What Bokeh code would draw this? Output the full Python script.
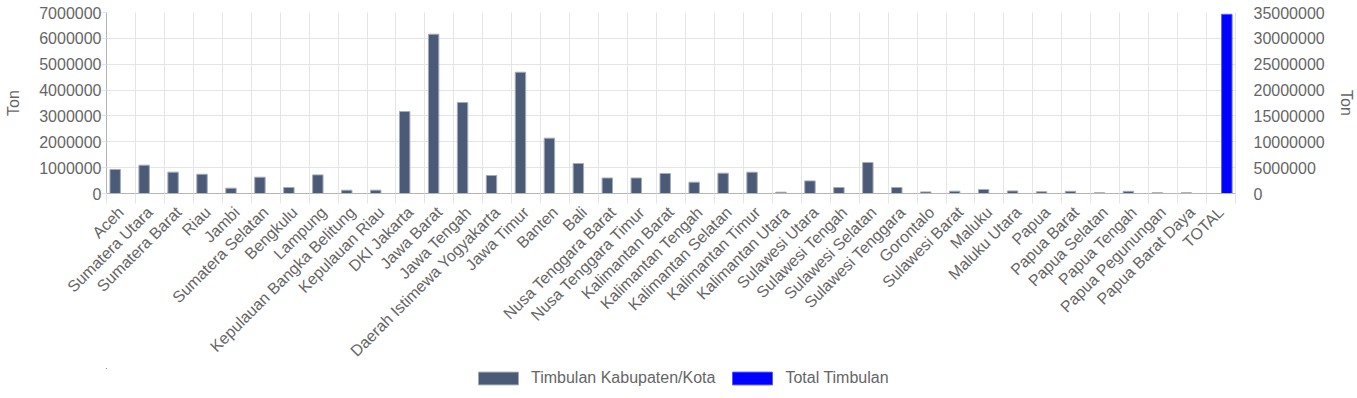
from bokeh.plotting import figure
from bokeh.layouts import column
from bokeh.models import (Range1d, LinearAxis, FixedTicker, SingleIntervalTicker,
                          BasicTickFormatter, Legend, LegendItem, ColumnDataSource)
from bokeh.transform import dodge
from bokeh.embed import file_html
from bokeh.resources import INLINE
import math

categories = ["Aceh", "Sumatera Utara", "Sumatera Barat", "Riau", "Jambi",
              "Sumatera Selatan", "Bengkulu", "Lampung", "Kepulauan Bangka Belitung",
              "Kepulauan Riau", "DKI Jakarta", "Jawa Barat", "Jawa Tengah",
              "Daerah Istimewa Yogyakarta", "Jawa Timur", "Banten", "Bali",
              "Nusa Tenggara Barat", "Nusa Tenggara Timur", "Kalimantan Barat",
              "Kalimantan Tengah", "Kalimantan Selatan", "Kalimantan Timur",
              "Kalimantan Utara", "Sulawesi Utara", "Sulawesi Tengah",
              "Sulawesi Selatan", "Sulawesi Tenggara", "Gorontalo", "Sulawesi Barat",
              "Maluku", "Maluku Utara", "Papua", "Papua Barat", "Papua Selatan",
              "Papua Tengah", "Papua Pegunungan", "Papua Barat Daya", "TOTAL"]

timbulan_kabkota = [930000, 1095000, 825000, 745000, 205000,
                    630000, 232000, 720000, 128000,
                    130000, 3170000, 6160000, 3520000,
                    696000, 4690000, 2140000, 1160000,
                    600000, 600000, 773000,
                    437000, 785000, 824000,
                    50000, 487000, 232000,
                    1199000, 232000, 62000, 89000,
                    155000, 100000, 70000, 85000, 30000,
                    85000, 30000, 30000]

total_timbulan = [34650000]

series_names = ["Timbulan Kabupaten/Kota", "Total Timbulan"]

TEXT = "#666666"
FONT = "Liberation Sans"
C1, C1L = "#4b5a76", "#a3abb9"
C2, C2L = "#0000ff", "#5a5aff"

n = len(categories)
src1 = ColumnDataSource(dict(x=[i + 0.5 for i in range(len(timbulan_kabkota))],
                             top=timbulan_kabkota))
src2 = ColumnDataSource(dict(x=[n - 1 + 0.5], top=total_timbulan))

H1 = 368
p = figure(width=1357, height=H1, output_backend="svg",
           toolbar_location=None, x_range=Range1d(0, n), y_range=Range1d(0, 7000000),
           min_border_left=106, min_border_right=115, min_border_top=12,
           min_border_bottom=H1 - 193)
p.extra_y_ranges = {"right": Range1d(0, 35000000)}
p.outline_line_color = None
p.background_fill_color = "white"

r1 = p.vbar(x=dodge("x", -0.2, range=p.x_range), top="top", width=0.36, source=src1,
            fill_color=C1, line_color=C1L, line_width=1)
r2 = p.vbar(x=dodge("x", 0.2, range=p.x_range), top="top", width=0.36, source=src2,
            fill_color=C2, line_color=C2L, line_width=1,
            y_range_name="right")

# x axis
xa = p.xaxis[0]
xa.ticker = FixedTicker(ticks=[i + 0.5 for i in range(n)], minor_ticks=list(range(n + 1)))
xa.major_label_overrides = {i + 0.5: c for i, c in enumerate(categories)}
xa.major_label_orientation = math.pi / 4
xa.major_tick_out = 0
xa.major_tick_in = 0
xa.minor_tick_out = 10
xa.minor_tick_in = 0
xa.minor_tick_line_color = "#e5e5e5"
xa.axis_line_color = "#b5b5b5"
xa.major_label_text_font = FONT
xa.major_label_text_font_size = "16px"
xa.major_label_text_color = TEXT
xa.major_label_standoff = 6

# left y axis
ya = p.yaxis[0]
ya.ticker = SingleIntervalTicker(interval=1000000)
ya.formatter = BasicTickFormatter(use_scientific=False)
ya.axis_label = "Ton"
ya.axis_label_text_font = FONT
ya.axis_label_text_font_size = "16px"
ya.axis_label_text_font_style = "normal"
ya.axis_label_text_color = TEXT
ya.major_label_text_font = FONT
ya.major_label_text_font_size = "16px"
ya.major_label_text_color = TEXT
ya.axis_line_color = "#b5b5b5"
ya.major_tick_out = 5
ya.major_tick_in = 0
ya.major_tick_line_color = "#e5e5e5"
ya.minor_tick_line_color = None
ya.major_label_standoff = 0
ya.axis_label_standoff = 14

# right y axis
ra = LinearAxis(y_range_name="right", ticker=SingleIntervalTicker(interval=5000000),
                formatter=BasicTickFormatter(use_scientific=False))
ra.axis_label = "Ton"
ra.axis_label_text_font = FONT
ra.axis_label_text_font_size = "16px"
ra.axis_label_text_font_style = "normal"
ra.axis_label_text_color = TEXT
ra.major_label_text_font = FONT
ra.major_label_text_font_size = "16px"
ra.major_label_text_color = TEXT
ra.axis_line_color = "#e5e5e5"
ra.major_tick_out = 0
ra.major_tick_in = 0
ra.minor_tick_line_color = None
ra.major_label_standoff = 14
ra.axis_label_standoff = 10
p.add_layout(ra, "right")

# grids
p.xgrid.ticker = FixedTicker(ticks=list(range(n + 1)))
p.xgrid.grid_line_color = "#e5e5e5"
p.ygrid.grid_line_color = "#e5e5e5"

# legend strip (same sources, bars kept entirely outside this strip's view)
H2 = 398 - H1
q = figure(width=1357, height=H2, output_backend="svg", toolbar_location=None,
           x_range=Range1d(1000, 1001), y_range=Range1d(-2, -1),
           x_axis_location=None, y_axis_location=None,
           min_border_left=0, min_border_right=0, min_border_top=0, min_border_bottom=0)
q.grid.visible = False
q.outline_line_color = None
l1 = q.vbar(x="x", top="top", width=0.36, source=src1,
            fill_color=C1, line_color=C1L, line_width=1)
l2 = q.vbar(x="x", top="top", width=0.36, source=src2,
            fill_color=C2, line_color=C2L, line_width=1)

legend = Legend(items=[LegendItem(label=series_names[0], renderers=[l1]),
                       LegendItem(label=series_names[1], renderers=[l2])],
                orientation="horizontal", location=(367, H2 - 19))
legend.glyph_width = 50
legend.glyph_height = 16
legend.label_text_font = FONT
legend.label_text_font_size = "16px"
legend.label_text_color = TEXT
legend.label_standoff = 8
legend.spacing = 12
legend.padding = 0
legend.margin = 0
legend.border_line_color = None
legend.background_fill_alpha = 0
q.add_layout(legend, "center")

open("out.html", "w").write(file_html(column(p, q, spacing=0), INLINE))
